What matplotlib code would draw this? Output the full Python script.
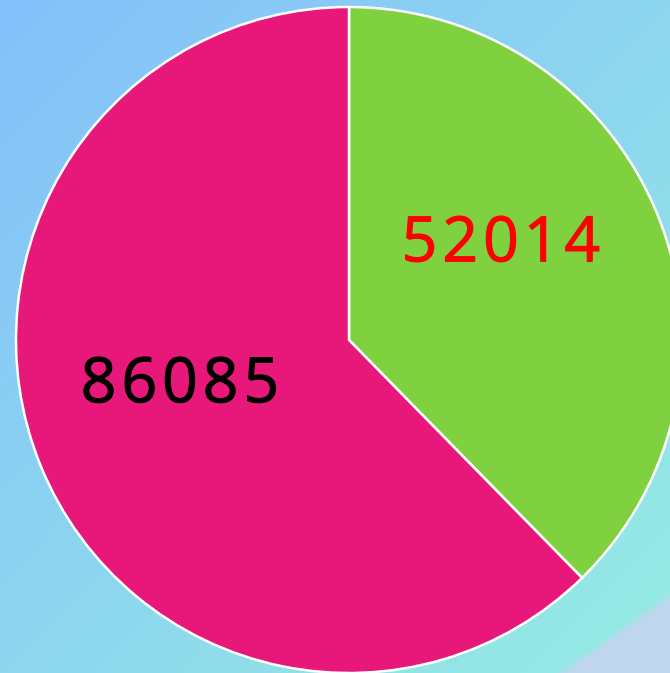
import numpy as np
import matplotlib.pyplot as plt
import matplotlib.patheffects as pe
from matplotlib.transforms import offset_copy

# --- DATA ---
labels = ['52014', '86085']
values = [52014, 86085]
colors = ['#7fd13f', '#e8177a']
label_colors = ['#ff0000', '#000000']

W, H = 670, 673
fig = plt.figure(figsize=(W / 100, H / 100), dpi=100)

# background gradient (blue top-left -> cyan bottom-right, lavender corner)
bg = fig.add_axes([0, 0, 1, 1])
yy, xx = np.mgrid[0:H, 0:W]
t = (xx / W + yy / H) / 2.0
c0 = np.array([0x84, 0xc0, 0xfb]) / 255
c1 = np.array([0x96, 0xec, 0xe3]) / 255
img = c0[None, None, :] * (1 - t[..., None]) + c1[None, None, :] * t[..., None]
# lavender corner stripe
d = (yy - 673) + 0.7 * (xx - 558)
s = np.clip((d + 4) / 10.0, 0, 1)[..., None]
lav = np.array([0xc0, 0xd6, 0xee]) / 255
img = img * (1 - s) + lav[None, None, :] * s
bg.imshow(img, aspect='auto', extent=[0, 1, 0, 1], origin='upper')
bg.set_axis_off()

# pie axes: centre (349, 340) px, radius 333 px
r_px = 333
ax = fig.add_axes([(349 - r_px) / W, (H - 340 - r_px) / H, 2 * r_px / W, 2 * r_px / H])
wedges, _ = ax.pie(values, colors=colors, startangle=90, counterclock=False,
                   wedgeprops=dict(edgecolor='white', linewidth=1.8))
ax.set_xlim(-1, 1)
ax.set_ylim(-1, 1)
ax.set_aspect('equal')
ax.set_axis_off()

# value labels, nudged from each wedge's bisector, drawn with letter spacing
offsets = [9.8, -7.0]
radii = [0.538, 0.526]
tracking = 5  # px between characters
renderer = fig.canvas.get_renderer()
for w, lab, col, off, rr in zip(wedges, labels, label_colors, offsets, radii):
    ang = np.deg2rad((w.theta1 + w.theta2) / 2 + off)
    x, y = rr * np.cos(ang), rr * np.sin(ang)
    style = dict(color=col, fontsize=45, family='Open Sans', va='center', ha='left',
                 path_effects=[pe.withStroke(linewidth=0.8, foreground=col)])
    widths = []
    for ch in lab:
        tmp = ax.text(0, 0, ch, **style)
        widths.append(tmp.get_window_extent(renderer).width)
        tmp.remove()
    total = sum(widths) + tracking * (len(lab) - 1)
    cursor = -total / 2
    for ch, wd in zip(lab, widths):
        tr = offset_copy(ax.transData, fig=fig, x=cursor * 72 / 100, y=0, units='points')
        ax.text(x, y, ch, transform=tr, **style)
        cursor += wd + tracking

fig.savefig('out.png', dpi=100)
